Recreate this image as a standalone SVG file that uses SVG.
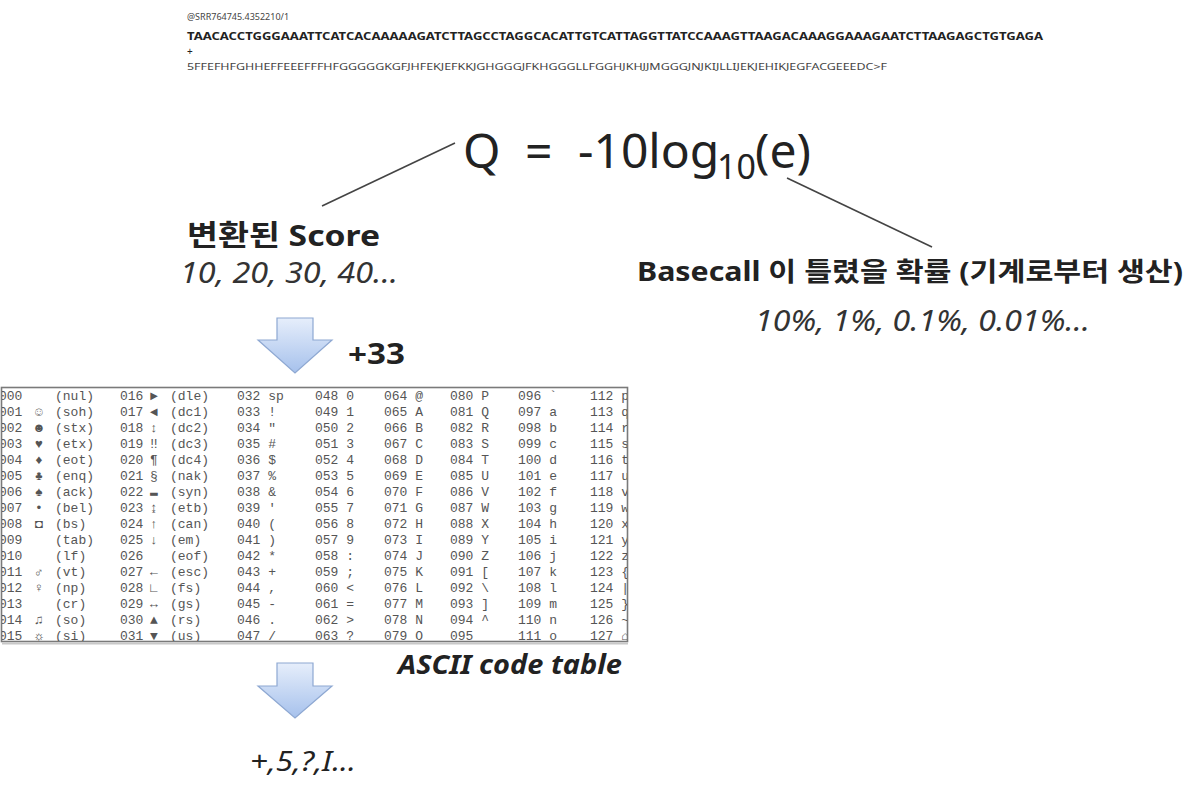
<svg xmlns="http://www.w3.org/2000/svg" width="1202" height="790" viewBox="0 0 1202 790">
<style>
.sans{font-family:"Noto Sans","Noto Sans CJK KR",sans-serif;fill:#222}
.b{font-weight:bold}
.i{font-style:italic}
.mono{font-family:"Liberation Mono",monospace;font-size:13px;fill:#555}
.conn{stroke:#444;stroke-width:1.6;fill:none}
.arrow{fill:url(#ag);stroke:#8ea8d2;stroke-width:1.2}
</style>
<defs>
<linearGradient id="ag" x1="0" y1="0" x2="0" y2="1">
<stop offset="0" stop-color="#e6eefb"/>
<stop offset="1" stop-color="#a6c1ec"/>
</linearGradient>
<clipPath id="tclip"><rect x="2" y="388" width="625" height="253"/></clipPath>
</defs>
<rect width="1202" height="790" fill="#fff"/>

<g id="fastq" class="sans">
<text x="187" y="20" font-size="9" fill="#444">@SRR764745.4352210/1</text>
<text x="187" y="40" font-size="11" class="b" textLength="856" lengthAdjust="spacingAndGlyphs">TAACACCTGGGAAATTCATCACAAAAAGATCTTAGCCTAGGCACATTGTCATTAGGTTATCCAAAGTTAAGACAAAGGAAAGAATCTTAAGAGCTGTGAGA</text>
<text x="187" y="55" font-size="10">+</text>
<text x="187" y="70" font-size="9" fill="#444" textLength="700" lengthAdjust="spacingAndGlyphs">5FFEFHFGHHEFFEEEFFFHFGGGGGKGFJHFEKJEFKKJGHGGGJFKHGGGLLFGGHJKHJJMGGGJNJKIJLLIJEKJEHIKJEGFACGEEEDC&gt;F</text>
</g>

<g id="formula" class="sans" font-size="48">
<text x="463" y="168">Q</text>
<text x="525" y="168">=</text>
<text x="578" y="168">-10log</text>
<text x="717" y="179" font-size="34">10</text>
<text x="755" y="168">(e)</text>
</g>

<g id="connectors">
<line class="conn" x1="455" y1="143" x2="322" y2="206"/>
<line class="conn" x1="787" y1="178" x2="932" y2="247"/>
</g>

<g id="score" class="sans">
<text x="187" y="246" font-size="29" class="b" textLength="193" lengthAdjust="spacingAndGlyphs">변환된 Score</text>
<text x="180" y="283" font-size="29" class="i" fill="#333" textLength="218" lengthAdjust="spacingAndGlyphs">10, 20, 30, 40...</text>
</g>

<g id="basecall" class="sans">
<text x="637" y="281" font-size="26" class="b" textLength="546" lengthAdjust="spacingAndGlyphs">Basecall 이 틀렸을 확률 (기계로부터 생산)</text>
<text x="755" y="331" font-size="29" class="i" fill="#333" textLength="335" lengthAdjust="spacingAndGlyphs">10%, 1%, 0.1%, 0.01%...</text>
</g>

<g id="arrow1">
<path class="arrow" d="M277,318 H313 V340 H332 L295,373 L258,340 H277 Z"/>
<text x="348" y="364" font-size="28" class="sans b" textLength="57" lengthAdjust="spacingAndGlyphs">+33</text>
</g>

<g id="ascii-table">
<rect x="1.5" y="387.5" width="626" height="254" fill="#fff" stroke="#7a7a7a" stroke-width="1.6"/>
<line x1="2" y1="643.5" x2="628" y2="643.5" stroke="#c8c8c8" stroke-width="2"/>
<g clip-path="url(#tclip)" class="mono">
<g transform="translate(0,400)">
<text x="-1" y="0">000</text><text x="55" y="0">(nul)</text>
<text x="-1" y="16">001</text><text x="35" y="16">☺</text><text x="55" y="16">(soh)</text>
<text x="-1" y="32">002</text><text x="35" y="32">☻</text><text x="55" y="32">(stx)</text>
<text x="-1" y="48">003</text><text x="35" y="48">♥</text><text x="55" y="48">(etx)</text>
<text x="-1" y="64">004</text><text x="35" y="64">♦</text><text x="55" y="64">(eot)</text>
<text x="-1" y="80">005</text><text x="35" y="80">♣</text><text x="55" y="80">(enq)</text>
<text x="-1" y="96">006</text><text x="35" y="96">♠</text><text x="55" y="96">(ack)</text>
<text x="-1" y="112">007</text><text x="35" y="112">•</text><text x="55" y="112">(bel)</text>
<text x="-1" y="128">008</text><text x="35" y="128">◘</text><text x="55" y="128">(bs)</text>
<text x="-1" y="144">009</text><text x="55" y="144">(tab)</text>
<text x="-1" y="160">010</text><text x="55" y="160">(lf)</text>
<text x="-1" y="176">011</text><text x="35" y="176">♂</text><text x="55" y="176">(vt)</text>
<text x="-1" y="192">012</text><text x="35" y="192">♀</text><text x="55" y="192">(np)</text>
<text x="-1" y="208">013</text><text x="55" y="208">(cr)</text>
<text x="-1" y="224">014</text><text x="35" y="224">♫</text><text x="55" y="224">(so)</text>
<text x="-1" y="240">015</text><text x="35" y="240">☼</text><text x="55" y="240">(si)</text>

<text x="120" y="0">016</text><text x="150" y="0">►</text><text x="170" y="0">(dle)</text>
<text x="120" y="16">017</text><text x="150" y="16">◄</text><text x="170" y="16">(dc1)</text>
<text x="120" y="32">018</text><text x="150" y="32">↕</text><text x="170" y="32">(dc2)</text>
<text x="120" y="48">019</text><text x="150" y="48">‼</text><text x="170" y="48">(dc3)</text>
<text x="120" y="64">020</text><text x="150" y="64">¶</text><text x="170" y="64">(dc4)</text>
<text x="120" y="80">021</text><text x="150" y="80">§</text><text x="170" y="80">(nak)</text>
<text x="120" y="96">022</text><text x="150" y="96">▬</text><text x="170" y="96">(syn)</text>
<text x="120" y="112">023</text><text x="150" y="112">↨</text><text x="170" y="112">(etb)</text>
<text x="120" y="128">024</text><text x="150" y="128">↑</text><text x="170" y="128">(can)</text>
<text x="120" y="144">025</text><text x="150" y="144">↓</text><text x="170" y="144">(em)</text>
<text x="120" y="160">026</text><text x="170" y="160">(eof)</text>
<text x="120" y="176">027</text><text x="150" y="176">←</text><text x="170" y="176">(esc)</text>
<text x="120" y="192">028</text><text x="150" y="192">∟</text><text x="170" y="192">(fs)</text>
<text x="120" y="208">029</text><text x="150" y="208">↔</text><text x="170" y="208">(gs)</text>
<text x="120" y="224">030</text><text x="150" y="224">▲</text><text x="170" y="224">(rs)</text>
<text x="120" y="240">031</text><text x="150" y="240">▼</text><text x="170" y="240">(us)</text>

<text x="237" y="0">032 sp</text>
<text x="237" y="16">033 !</text>
<text x="237" y="32">034 "</text>
<text x="237" y="48">035 #</text>
<text x="237" y="64">036 $</text>
<text x="237" y="80">037 %</text>
<text x="237" y="96">038 &amp;</text>
<text x="237" y="112">039 '</text>
<text x="237" y="128">040 (</text>
<text x="237" y="144">041 )</text>
<text x="237" y="160">042 *</text>
<text x="237" y="176">043 +</text>
<text x="237" y="192">044 ,</text>
<text x="237" y="208">045 -</text>
<text x="237" y="224">046 .</text>
<text x="237" y="240">047 /</text>

<text x="315" y="0">048 0</text>
<text x="315" y="16">049 1</text>
<text x="315" y="32">050 2</text>
<text x="315" y="48">051 3</text>
<text x="315" y="64">052 4</text>
<text x="315" y="80">053 5</text>
<text x="315" y="96">054 6</text>
<text x="315" y="112">055 7</text>
<text x="315" y="128">056 8</text>
<text x="315" y="144">057 9</text>
<text x="315" y="160">058 :</text>
<text x="315" y="176">059 ;</text>
<text x="315" y="192">060 &lt;</text>
<text x="315" y="208">061 =</text>
<text x="315" y="224">062 &gt;</text>
<text x="315" y="240">063 ?</text>

<text x="384" y="0">064 @</text>
<text x="384" y="16">065 A</text>
<text x="384" y="32">066 B</text>
<text x="384" y="48">067 C</text>
<text x="384" y="64">068 D</text>
<text x="384" y="80">069 E</text>
<text x="384" y="96">070 F</text>
<text x="384" y="112">071 G</text>
<text x="384" y="128">072 H</text>
<text x="384" y="144">073 I</text>
<text x="384" y="160">074 J</text>
<text x="384" y="176">075 K</text>
<text x="384" y="192">076 L</text>
<text x="384" y="208">077 M</text>
<text x="384" y="224">078 N</text>
<text x="384" y="240">079 O</text>

<text x="450" y="0">080 P</text>
<text x="450" y="16">081 Q</text>
<text x="450" y="32">082 R</text>
<text x="450" y="48">083 S</text>
<text x="450" y="64">084 T</text>
<text x="450" y="80">085 U</text>
<text x="450" y="96">086 V</text>
<text x="450" y="112">087 W</text>
<text x="450" y="128">088 X</text>
<text x="450" y="144">089 Y</text>
<text x="450" y="160">090 Z</text>
<text x="450" y="176">091 [</text>
<text x="450" y="192">092 \</text>
<text x="450" y="208">093 ]</text>
<text x="450" y="224">094 ^</text>
<text x="450" y="240">095 _</text>

<text x="518" y="0">096 `</text>
<text x="518" y="16">097 a</text>
<text x="518" y="32">098 b</text>
<text x="518" y="48">099 c</text>
<text x="518" y="64">100 d</text>
<text x="518" y="80">101 e</text>
<text x="518" y="96">102 f</text>
<text x="518" y="112">103 g</text>
<text x="518" y="128">104 h</text>
<text x="518" y="144">105 i</text>
<text x="518" y="160">106 j</text>
<text x="518" y="176">107 k</text>
<text x="518" y="192">108 l</text>
<text x="518" y="208">109 m</text>
<text x="518" y="224">110 n</text>
<text x="518" y="240">111 o</text>

<text x="590" y="0">112 p</text>
<text x="590" y="16">113 q</text>
<text x="590" y="32">114 r</text>
<text x="590" y="48">115 s</text>
<text x="590" y="64">116 t</text>
<text x="590" y="80">117 u</text>
<text x="590" y="96">118 v</text>
<text x="590" y="112">119 w</text>
<text x="590" y="128">120 x</text>
<text x="590" y="144">121 y</text>
<text x="590" y="160">122 z</text>
<text x="590" y="176">123 {</text>
<text x="590" y="192">124 |</text>
<text x="590" y="208">125 }</text>
<text x="590" y="224">126 ~</text>
<text x="590" y="240">127 ⌂</text>
</g>
</g>
<text x="398" y="674" font-size="27" class="sans b i" textLength="224" lengthAdjust="spacingAndGlyphs">ASCII code table</text>
</g>

<g id="arrow2">
<path class="arrow" d="M277,663 H313 V686 H332 L295,718 L258,686 H277 Z"/>
</g>

<g id="result">
<text x="250" y="771" font-size="27" class="sans i" fill="#333" textLength="106" lengthAdjust="spacingAndGlyphs">+,5,?,I...</text>
</g>
</svg>
